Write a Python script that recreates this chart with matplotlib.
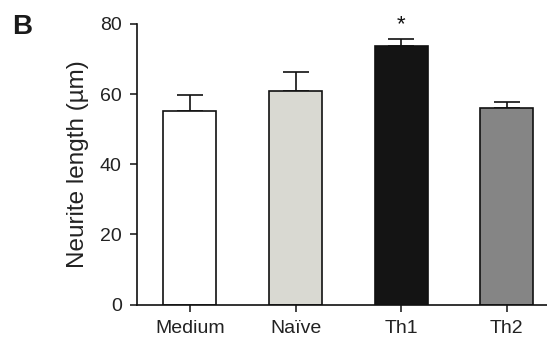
import matplotlib
matplotlib.use("Agg")
import matplotlib.pyplot as plt

categories = ["Medium", "Naïve", "Th1", "Th2"]
means = [55.3, 60.9, 73.7, 56.0]
errors = [4.4, 5.4, 2.1, 1.8]
colors = ["#ffffff", "#d9d9d2", "#141414", "#858585"]
yticks = [0, 20, 40, 60, 80]

plt.rcParams['font.family'] = ['Liberation Sans', 'DejaVu Sans']

fig = plt.figure(figsize=(5.47, 3.39), dpi=100)
ax_w = 1 - 137/547
ax = fig.add_axes([137/547, 1 - 304.5/339, ax_w, (304.5 - 24)/339])

x = list(range(len(categories)))
ax.bar(x, means, width=0.5, color=colors, edgecolor="#111111", linewidth=1.2, zorder=2)
ax.errorbar(x, means, yerr=[[0]*len(means), errors], fmt="none", ecolor="#111111",
            elinewidth=1.2, capsize=9.6, capthick=1.2, zorder=1)
ax.text(2, means[2] + errors[2] + 1.0, "*", ha="center", va="bottom", fontsize=16, color="#111111")

ax.set_xlim(-0.5, 3.38)
ax.set_ylim(0, 80)
ax.set_yticks(yticks)
ax.set_xticks(x)
ax.set_xticklabels(categories, fontsize=14, color="#222222")
ax.tick_params(axis="y", labelsize=14, labelcolor="#222222", length=5, width=1.1, pad=6, color="#111111")
ax.tick_params(axis="x", length=5, width=1.1, pad=6, color="#111111")
for s in ["top", "right"]:
    ax.spines[s].set_visible(False)
for s in ["left", "bottom"]:
    ax.spines[s].set_linewidth(1.2)
    ax.spines[s].set_color("#111111")
ax.set_ylabel("Neurite length (µm)", fontsize=17.5, color="#222222")
ax.yaxis.set_label_coords((89 - 137) / 410, 0.5)
fig.text(12/547, 1 - 34/339, "B", fontsize=20, fontweight="bold", ha="left", va="baseline", color="#1a1a1a")

fig.savefig("out.png", dpi=100)
